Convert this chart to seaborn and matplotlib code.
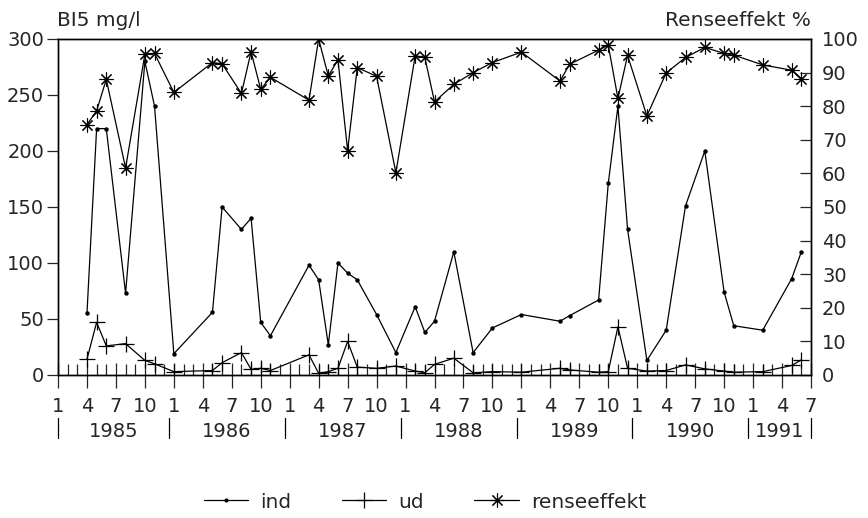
import matplotlib
matplotlib.use("Agg")
import matplotlib.pyplot as plt
from matplotlib.lines import Line2D
from matplotlib.ticker import MultipleLocator, FixedLocator
import seaborn as sns
import pandas as pd

# month index counted from January 1985 (0 = Jan 1985)
month_idx = [3, 4, 5, 7, 9, 10, 12, 16, 17, 19, 20, 21, 22, 26, 27, 28, 29, 30, 31,
             33, 35, 37, 38, 39, 41, 43, 45, 48, 52, 53, 56, 57, 58, 59, 61, 63, 65,
             67, 69, 70, 73, 76, 77]
ind = [55, 220, 220, 73, 280, 240, 19, 56, 150, 130, 140, 47, 35, 98, 85, 27, 100, 91, 85,
       54, 20, 61, 38, 48, 110, 20, 42, 54, 48, 53, 67, 171, 240, 130, 13, 40, 151,
       200, 74, 44, 40, 86, 110]
ud = [14, 47, 26, 28, 13, 10, 3, 4, 11, 20, 5, 6, 4, 18, 1.5, 3, 6, 30, 7,
      6, 8, 3.5, 2, 9.5, 15, 2, 3, 2.5, 6, 4.5, 2.5, 3, 43, 6, 3.5, 4, 9,
      5.5, 3.5, 2.5, 3, 8.5, 13.5]
renseeffekt = [74.5, 78.6, 88, 61.6, 95.4, 95.7, 84.1, 93, 92.6, 83.8, 96.2, 85, 88.6,
               81.8, 100, 89, 93.8, 66.8, 91.5, 88.9, 60.2, 95, 94.5, 81.3, 86.5, 90,
               93, 96.1, 87.5, 92.5, 96.7, 98.2, 82.3, 95.1, 77.1, 89.9, 94.5, 97.5,
               95.7, 95.2, 92.3, 90.7, 88.2]

month_labels = ["1", "4", "7", "10"]
years = ["1985", "1986", "1987", "1988", "1989", "1990", "1991"]
year_separators = [0, 11.5, 23.5, 35.5, 47.5, 59.5, 71.5, 78]

sns.set_style("ticks")
plt.rcParams["font.family"] = ["DejaVu Sans"]
FS = 14
FS_T = 14.5

df = pd.DataFrame({"month": month_idx, "ind": ind, "ud": ud, "renseeffekt": renseeffekt})

fig = plt.figure(figsize=(8.68, 5.18), dpi=100)
ax = fig.add_axes([58 / 868, 1 - 375 / 518, (811 - 58) / 868, 336 / 518])
ax2 = ax.twinx()

sns.lineplot(data=df, x="month", y="ind", ax=ax, color="black", lw=0.9,
             marker="o", markersize=3.2, markeredgewidth=0, legend=False)
sns.lineplot(data=df, x="month", y="ud", ax=ax, color="black", lw=0.9,
             marker="+", markersize=11, markeredgewidth=0.9, markeredgecolor="black",
             legend=False)
sns.lineplot(data=df, x="month", y="renseeffekt", ax=ax2, color="black", lw=0.9,
             marker=(8, 2, 0), markersize=10, markeredgewidth=0.8, markeredgecolor="black",
             legend=False)

ax.set_xlim(0, 78)
ax.set_ylim(0, 300)
ax2.set_ylim(0, 100)
ax.set_xlabel("")
ax.set_ylabel("")
ax2.set_ylabel("")

for a in (ax, ax2):
    for s in a.spines.values():
        s.set_visible(True)
        s.set_linewidth(1.0)
        s.set_color("black")

ax.yaxis.set_major_locator(MultipleLocator(50))
ax2.yaxis.set_major_locator(MultipleLocator(10))
ax.tick_params(axis="y", direction="out", length=8, width=0.9, pad=2, labelsize=FS)
ax2.tick_params(axis="y", direction="in", length=8, width=0.9, pad=8, labelsize=FS)

major = list(range(0, 79, 3))
ax.xaxis.set_major_locator(FixedLocator(major))
ax.xaxis.set_minor_locator(FixedLocator(list(range(0, 79))))
ax.set_xticklabels([month_labels[(m // 3) % 4] for m in major])
ax.tick_params(axis="x", which="major", direction="inout", length=18, width=0.9,
               pad=7, labelsize=FS)
ax.tick_params(axis="x", which="minor", direction="in", length=8, width=0.9)

trans = ax.get_xaxis_transform()
for xs in year_separators:
    ax.add_line(Line2D([xs, xs], [-0.128, -0.188], transform=trans, color="black",
                       lw=0.9, clip_on=False))
for i, y in enumerate(years):
    xc = (year_separators[i] + year_separators[i + 1]) / 2
    ax.text(xc, -0.169, y, transform=trans, ha="center", va="center", fontsize=FS)

fig.text(57 / 868, 1 - 20 / 518, "BI5 mg/l", ha="left", va="center", fontsize=FS_T)
fig.text(811 / 868, 1 - 20 / 518, "Renseeffekt %", ha="right", va="center", fontsize=FS_T)

handles = [
    Line2D([], [], color="black", lw=0.9, marker="o", markersize=3, markeredgewidth=0, label="ind"),
    Line2D([], [], color="black", lw=0.9, marker="+", markersize=11, markeredgewidth=0.9, label="ud"),
    Line2D([], [], color="black", lw=0.9, marker=(8, 2, 0), markersize=10, markeredgewidth=0.8, label="renseeffekt"),
]
fig.legend(handles=handles, loc="center", bbox_to_anchor=(425 / 868, 1 - 502 / 518),
           ncol=3, frameon=False, handlelength=2.2, handletextpad=0.6,
           columnspacing=2.5, fontsize=FS_T)

fig.savefig("out.png", dpi=100)
